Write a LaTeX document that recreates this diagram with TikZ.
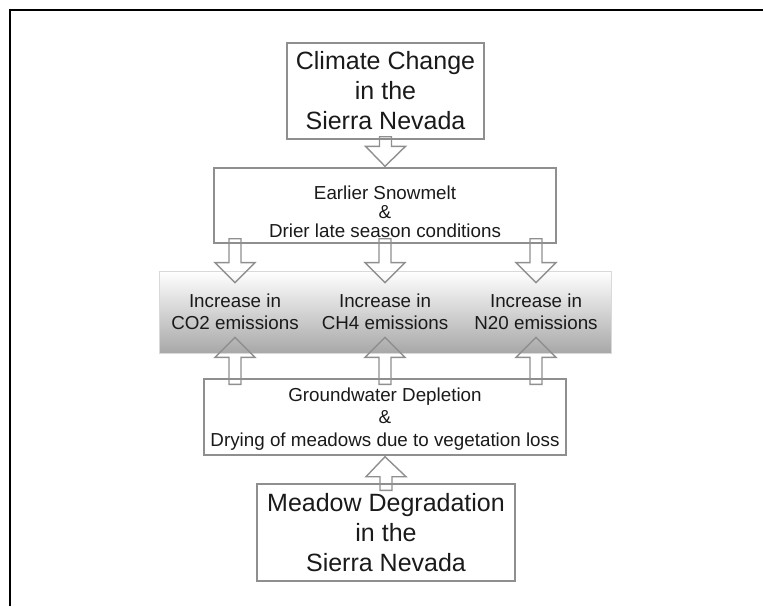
\documentclass[tikz,border=0pt]{standalone}
\usepackage{fontspec}
\setmainfont{Liberation Sans}
\usepackage{tikz}
\usetikzlibrary{calc}
\definecolor{boxgray}{HTML}{8F8F8F}
\definecolor{bandgray}{HTML}{A8A8A8}
\definecolor{inkgray}{HTML}{1A1A1A}

% hollow block arrow from #1 (shaft end) to #2 (tip), vertical only
\newcommand{\fatarrow}[2]{%
  \draw[fatarr] let \p1=(#1), \p2=(#2), \n1={sign(\y1-\y2)*10} in
    (\x1-3pt,\y1) -- (\x1-3pt,{\y2+\n1*1pt}) -- (\x1-10pt,{\y2+\n1*1pt}) -- (\x2,\y2)
    -- (\x1+10pt,{\y2+\n1*1pt}) -- (\x1+3pt,{\y2+\n1*1pt}) -- (\x1+3pt,\y1) -- cycle;}

\begin{document}
\begin{tikzpicture}[x=0.5pt, y=-0.5pt, text=inkgray,
    box/.style={draw=boxgray, line width=0.7pt, inner sep=0pt, align=center},
    bigtext/.style={font=\fontsize{12.5}{15}\selectfont},
    smalltext/.style={font=\fontsize{9.4}{11.2}\selectfont},
    fatarr/.style={draw=boxgray, line width=0.7pt, line join=miter}]
  \useasboundingbox (0,0) rectangle (763,606);
  \draw[line width=1pt, black] (10,606) -- (10,10) -- (763,10);

  % boxes
  \node[box, bigtext, minimum width=98.5pt, minimum height=48pt] (clim) at (385.5,91)
    {Climate Change\\in the\\Sierra Nevada};
  \node[box, minimum width=171pt, minimum height=37.5pt] (snow) at (385,205.5) {};
  \node[font=\fontsize{9.4}{9.4}\selectfont, align=center] (snowtxt) at (385,212)
    {Earlier Snowmelt\\\&\\Drier late season conditions};
  \node[inner sep=0pt, minimum width=226pt, minimum height=41pt,
    top color=white, bottom color=bandgray, draw=gray!30, line width=0.4pt] (band) at (385,312) {};
  \node[smalltext, align=center] (co2) at (235,311.5) {Increase in\\CO2 emissions};
  \node[smalltext, align=center] (ch4) at (385,311.5) {Increase in\\CH4 emissions};
  \node[smalltext, align=center] (n2o) at (536,311.5) {Increase in\\N20 emissions};
  \node[box, minimum width=181pt, minimum height=38pt] (ground) at (385,417) {};
  \node[smalltext, align=center] (groundtxt) at (385,419)
    {Groundwater Depletion\\\&\\Drying of meadows due to vegetation loss};
  \node[box, bigtext, minimum width=129pt, minimum height=48.5pt] (meadow) at (386,532.5)
    {Meadow Degradation\\in the\\Sierra Nevada};

  % arrows
  \fatarrow{[yshift=1.5pt]clim.south}{[yshift=0.5pt]snow.north}
  \foreach \g in {co2,ch4,n2o} {
    \fatarrow{[yshift=2.5pt]\g |- snow.south}{[yshift=-6pt]\g |- band.north}
    \fatarrow{[yshift=-3pt]\g |- ground.north}{[yshift=8pt]\g |- band.south}
  }
  \fatarrow{[yshift=-3.5pt]meadow.north}{[yshift=-0.5pt]ground.south}
\end{tikzpicture}
\end{document}
